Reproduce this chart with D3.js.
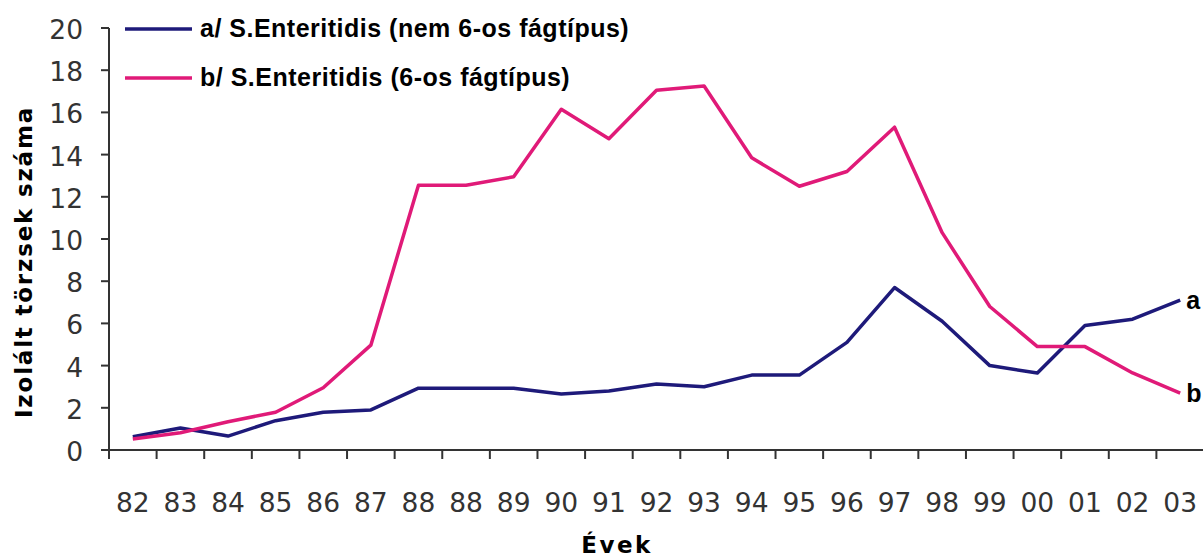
<!DOCTYPE html>
<html>
<head>
<meta charset="utf-8">
<script src="https://cdn.jsdelivr.net/npm/d3@7"></script>
<style>
  body { margin: 0; background: #fff; }
  svg { display: block; }
  .tick-label { font-family: "DejaVu Sans", Verdana, sans-serif; font-size: 26.5px; fill: #333; }
  .bold { font-family: "DejaVu Sans", Verdana, sans-serif; font-weight: bold; fill: #000; }
  .legend-text { font-family: "Liberation Sans", Arial, sans-serif; font-weight: bold; font-size: 25px; fill: #000; letter-spacing: 0.5px; }
</style>
</head>
<body>
<svg id="chart" width="1203" height="558"></svg>
<script>
/*** DATA ***/
const years = ['82','83','84','85','86','87','88','88 ','89','90','91','92','93','94','95','96','97','98','99','00','01','02','03'];
const seriesA = [0.63,1.04,0.66,1.39,1.79,1.9,2.93,2.93,2.93,2.65,2.8,3.13,3.0,3.55,3.55,5.1,7.7,6.1,4.0,3.65,5.9,6.2,7.1];
const seriesB = [0.52,0.82,1.34,1.79,2.95,4.97,12.55,12.55,12.95,16.15,14.75,17.05,17.25,13.85,12.5,13.2,15.3,10.3,6.8,4.9,4.9,3.65,2.7];
const yTicks = [0,2,4,6,8,10,12,14,16,18,20];
const legendLabels = ['a/ S.Enteritidis (nem 6-os fágtípus)', 'b/ S.Enteritidis (6-os fágtípus)'];
const endLabels = ['a', 'b'];
const colors = ['#1e1a7a', '#e01a78'];

/*** SCALES ***/
const svg = d3.select('#chart');
const x0 = 109, x1 = 1204, yTop = 28, yBot = 450;

const x = d3.scaleBand().domain(years).range([x0, x1]);
const y = d3.scaleLinear().domain([0, 20]).range([yBot, yTop]);

const axisColor = '#333';

// y axis
svg.append('line')
  .attr('x1', x0).attr('x2', x0)
  .attr('y1', y(20)).attr('y2', yBot + 9)
  .attr('stroke', axisColor).attr('stroke-width', 2);

svg.selectAll('.ytick').data(yTicks).enter().append('line')
  .attr('x1', x0 - 8).attr('x2', x0)
  .attr('y1', d => y(d)).attr('y2', d => y(d))
  .attr('stroke', axisColor).attr('stroke-width', 2);

svg.selectAll('.ylab').data(yTicks).enter().append('text')
  .attr('class', 'tick-label')
  .attr('x', 83).attr('y', d => y(d) + 11)
  .attr('text-anchor', 'end')
  .text(d => d);

// x axis
svg.append('line')
  .attr('x1', x0 - 8).attr('x2', 1203)
  .attr('y1', yBot).attr('y2', yBot)
  .attr('stroke', axisColor).attr('stroke-width', 2);

svg.selectAll('.xtick').data(years.slice(1)).enter().append('line')
  .attr('x1', d => x(d)).attr('x2', d => x(d))
  .attr('y1', yBot).attr('y2', yBot + 9)
  .attr('stroke', axisColor).attr('stroke-width', 2);

svg.selectAll('.xlab').data(years).enter().append('text')
  .attr('class', 'tick-label')
  .attr('x', d => x(d) + x.bandwidth() / 2)
  .attr('y', 512)
  .attr('text-anchor', 'middle')
  .text(d => d.trim());

// axis titles
svg.append('text')
  .attr('class', 'bold')
  .attr('transform', 'translate(32,262) rotate(-90)')
  .attr('text-anchor', 'middle')
  .style('font-size', '23px')
  .style('letter-spacing', '1.8px')
  .text('Izolált törzsek száma');

svg.append('text')
  .attr('class', 'bold')
  .attr('x', 617).attr('y', 553)
  .attr('text-anchor', 'middle')
  .style('font-size', '23px')
  .style('letter-spacing', '2.5px')
  .text('Évek');

/*** LINES ***/
const line = d3.line()
  .x((d, i) => x(years[i]) + x.bandwidth() / 2)
  .y(d => y(d));

[seriesA, seriesB].forEach((s, i) => {
  svg.append('path')
    .attr('d', line(s))
    .attr('fill', 'none')
    .attr('stroke', colors[i])
    .attr('stroke-width', 3.5)
    .attr('stroke-linejoin', 'round');

  // end label, kept just inside the right edge
  const last = s.length - 1;
  svg.append('text')
    .attr('class', 'bold')
    .style('font-family', '"Liberation Sans", Arial, sans-serif')
    .style('font-size', '25px')
    .attr('x', x(years[last]) + x.bandwidth() / 2 + 6)
    .attr('y', y(s[last]) + 9)
    .text(endLabels[i]);
});

/*** LEGEND ***/
legendLabels.forEach((lab, i) => {
  const ly = 29 + i * 49;
  svg.append('line')
    .attr('x1', 125).attr('x2', 192)
    .attr('y1', ly).attr('y2', ly)
    .attr('stroke', colors[i]).attr('stroke-width', 3.5);
  svg.append('text')
    .attr('class', 'legend-text')
    .attr('x', 200).attr('y', ly + 8)
    .text(lab);
});
</script>
</body>
</html>
